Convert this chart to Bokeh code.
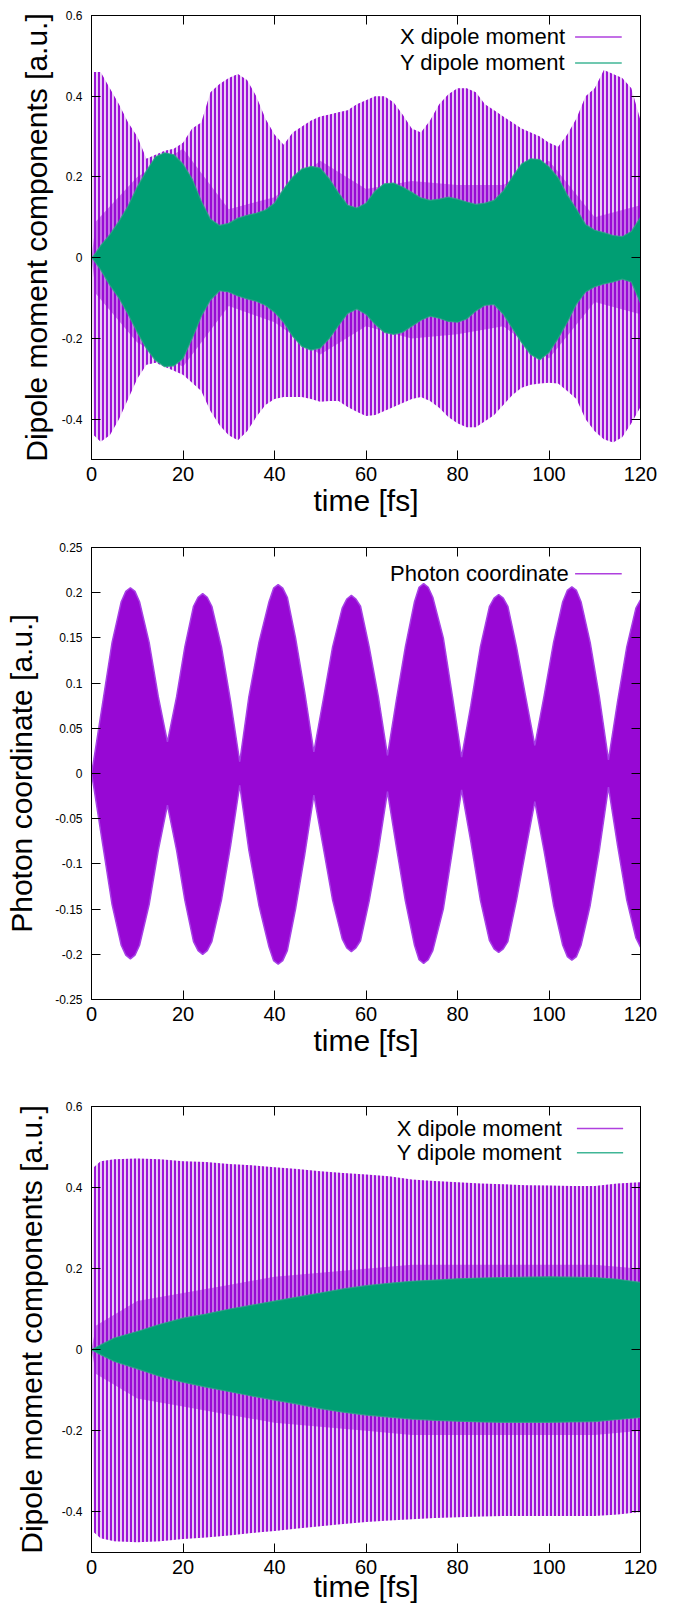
from bokeh.plotting import figure
from bokeh.layouts import column
from bokeh.models import (Range1d, FixedTicker, LinearAxis, Label, CustomJSTickFormatter,
                          CustomLabelingPolicy)
from bokeh.embed import file_html
from bokeh.resources import INLINE

FONT = "Liberation Sans"
PURPLE = "#9400d3"
GREEN = "#009e73"

# ---------------- labels / ticks ----------------
X_TICKS = [0, 20, 40, 60, 80, 100, 120]
DIP_Y_TICKS = [-0.4, -0.2, 0, 0.2, 0.4, 0.6]
PH_Y_TICKS = [-0.25, -0.2, -0.15, -0.1, -0.05, 0, 0.05, 0.1, 0.15, 0.2, 0.25]
XLABEL = "time [fs]"
YLABEL_DIP = "Dipole moment components [a.u.]"
YLABEL_PH = "Photon coordinate [a.u.]"
LEG_X = "X dipole moment"
LEG_Y = "Y dipole moment"
LEG_PH = "Photon coordinate"

# ---------------- panel 1 : dipole moments (envelopes) ----------------
t1 = [0, 0.5, 2, 4, 6, 8, 10, 12, 14, 16, 18, 20, 22, 24, 26, 28, 30, 32, 34, 36, 38, 40,
      42, 44, 46, 48, 50, 52, 54, 56, 58, 60, 62, 64, 66, 68, 70, 72, 74, 76, 78, 80,
      82, 84, 86, 88, 90, 92, 94, 96, 98, 100, 102, 104, 106, 108, 110, 112, 114, 116, 118, 120]
x1_up = [0.0, 0.46, 0.46, 0.42, 0.38, 0.335, 0.30, 0.245, 0.255, 0.265, 0.27, 0.285, 0.32, 0.335,
         0.41, 0.43, 0.445, 0.455, 0.44, 0.40, 0.345, 0.305, 0.28, 0.31, 0.325, 0.34, 0.35, 0.355,
         0.36, 0.365, 0.38, 0.39, 0.40, 0.40, 0.385, 0.355, 0.32, 0.31, 0.34, 0.38, 0.405, 0.42,
         0.42, 0.41, 0.38, 0.365, 0.35, 0.335, 0.32, 0.31, 0.30, 0.285, 0.275, 0.305, 0.345, 0.40,
         0.42, 0.465, 0.455, 0.445, 0.42, 0.34]
x1_lo = [0.0, -0.44, -0.456, -0.44, -0.40, -0.35, -0.30, -0.265, -0.26, -0.27, -0.28, -0.29, -0.31,
         -0.33, -0.38, -0.415, -0.44, -0.452, -0.43, -0.395, -0.365, -0.35, -0.345, -0.345, -0.345,
         -0.35, -0.357, -0.355, -0.355, -0.37, -0.382, -0.392, -0.39, -0.38, -0.37, -0.36, -0.35,
         -0.345, -0.355, -0.372, -0.395, -0.41, -0.42, -0.42, -0.405, -0.39, -0.365, -0.34, -0.322,
         -0.315, -0.312, -0.31, -0.312, -0.33, -0.35, -0.40, -0.43, -0.45, -0.458, -0.445, -0.41, -0.37]
y1_up = [0.0, 0.005, 0.03, 0.057, 0.09, 0.128, 0.175, 0.215, 0.25, 0.26, 0.255, 0.232, 0.195, 0.14,
         0.095, 0.08, 0.085, 0.098, 0.105, 0.11, 0.118, 0.135, 0.17, 0.2, 0.22, 0.226, 0.222, 0.195,
         0.16, 0.13, 0.123, 0.135, 0.165, 0.183, 0.185, 0.175, 0.162, 0.148, 0.142, 0.145, 0.15, 0.145,
         0.138, 0.132, 0.135, 0.142, 0.165, 0.2, 0.232, 0.245, 0.243, 0.225, 0.198, 0.155, 0.12, 0.082,
         0.068, 0.062, 0.055, 0.052, 0.065, 0.10]
y1_lo = [0.0, -0.006, -0.03, -0.068, -0.1, -0.14, -0.185, -0.225, -0.255, -0.27, -0.268, -0.25, -0.2,
         -0.145, -0.105, -0.082, -0.085, -0.095, -0.102, -0.108, -0.118, -0.135, -0.16, -0.195, -0.22,
         -0.229, -0.224, -0.2, -0.168, -0.138, -0.127, -0.14, -0.165, -0.185, -0.19, -0.185, -0.17,
         -0.155, -0.145, -0.15, -0.158, -0.16, -0.152, -0.132, -0.118, -0.116, -0.14, -0.175, -0.21,
         -0.24, -0.253, -0.235, -0.2, -0.16, -0.115, -0.085, -0.072, -0.065, -0.06, -0.053, -0.06, -0.112]
t1_core = [0, 1, 10, 20, 30, 40, 50, 60, 70, 80, 90, 100, 110, 120]
x1_core_up = [0.0, 0.09, 0.2, 0.27, 0.12, 0.15, 0.24, 0.17, 0.19, 0.18, 0.18, 0.24, 0.1, 0.13]
x1_core_lo = [0.0, -0.09, -0.21, -0.27, -0.12, -0.16, -0.24, -0.17, -0.2, -0.19, -0.17, -0.25, -0.11, -0.14]

# ---------------- panel 2 : photon coordinate envelope ----------------
t2 = [0, 0.5, 2.5, 4.5, 6.5, 7.5, 8.5, 9.5, 10.5, 12.6, 14.6,
      16.6, 18.6, 20.4, 22.3, 23.3, 24.3, 25.3, 26.3, 28.4, 30.4,
      32.4, 34.4, 36.6, 38.8, 39.8, 40.8, 41.8, 42.8, 44.6, 46.6,
      48.6, 50.6, 52.7, 54.8, 55.8, 56.8, 57.8, 58.8, 60.7, 62.7,
      64.7, 66.6, 68.6, 70.6, 71.6, 72.6, 73.6, 74.6, 76.9, 78.9,
      80.9, 82.9, 85.0, 87.0, 88.0, 89.0, 90.0, 91.0, 92.9, 94.9,
      96.9, 98.9, 101.0, 103.0, 104.0, 105.0, 106.0, 107.0, 109.0, 111.0,
      113.0, 115.0, 117.0, 119.0, 120.0]
ph_up = [0.0, 0.015, 0.08, 0.145, 0.19, 0.2015, 0.2055, 0.2015, 0.19, 0.145, 0.085,
         0.035, 0.085, 0.14, 0.185, 0.195, 0.199, 0.195, 0.185, 0.14, 0.08,
         0.013, 0.085, 0.145, 0.19, 0.205, 0.209, 0.205, 0.195, 0.15, 0.09,
         0.024, 0.08, 0.14, 0.183, 0.193, 0.197, 0.193, 0.185, 0.14, 0.085,
         0.02, 0.08, 0.14, 0.19, 0.206, 0.21, 0.206, 0.195, 0.15, 0.085,
         0.018, 0.075, 0.14, 0.185, 0.194, 0.198, 0.194, 0.185, 0.14, 0.085,
         0.031, 0.085, 0.145, 0.19, 0.2025, 0.2065, 0.2025, 0.19, 0.145, 0.085,
         0.015, 0.08, 0.14, 0.183, 0.192]
ph_lo = [0.0, -0.015, -0.08, -0.145, -0.19, -0.201, -0.205, -0.201, -0.19, -0.145, -0.085,
         -0.035, -0.085, -0.14, -0.186, -0.196, -0.2, -0.196, -0.186, -0.14, -0.08,
         -0.013, -0.085, -0.146, -0.192, -0.207, -0.211, -0.207, -0.196, -0.15, -0.09,
         -0.024, -0.08, -0.14, -0.183, -0.193, -0.197, -0.193, -0.185, -0.141, -0.085,
         -0.02, -0.08, -0.141, -0.19, -0.206, -0.21, -0.206, -0.196, -0.15, -0.085,
         -0.018, -0.075, -0.14, -0.185, -0.194, -0.198, -0.194, -0.186, -0.14, -0.085,
         -0.031, -0.085, -0.146, -0.19, -0.2025, -0.2065, -0.2025, -0.19, -0.146, -0.085,
         -0.015, -0.08, -0.14, -0.182, -0.192]

# ---------------- panel 3 : dipole moments, second run ----------------
t3 = [0, 0.5, 2, 5, 10, 15, 20, 25, 30, 35, 40, 45, 50, 55, 60, 65, 70, 75, 80, 85, 90, 95, 100,
      105, 110, 115, 120]
x3_up = [0.0, 0.45, 0.465, 0.47, 0.472, 0.47, 0.465, 0.463, 0.458, 0.455, 0.45, 0.446, 0.44, 0.436,
         0.432, 0.428, 0.42, 0.416, 0.413, 0.41, 0.408, 0.406, 0.405, 0.404, 0.404, 0.41, 0.413]
x3_lo = [0.0, -0.45, -0.465, -0.472, -0.475, -0.472, -0.467, -0.463, -0.458, -0.452, -0.447, -0.441,
         -0.435, -0.43, -0.425, -0.421, -0.418, -0.415, -0.413, -0.411, -0.41, -0.41, -0.41, -0.41,
         -0.41, -0.406, -0.40]
y3_up = [0.0, 0.003, 0.012, 0.029, 0.045, 0.063, 0.078, 0.088, 0.1, 0.11, 0.12, 0.13, 0.14, 0.15,
         0.158, 0.164, 0.169, 0.172, 0.175, 0.177, 0.178, 0.179, 0.18, 0.179, 0.178, 0.174, 0.166]
y3_lo = [0.0, -0.003, -0.012, -0.029, -0.047, -0.066, -0.08, -0.092, -0.103, -0.114, -0.124, -0.134,
         -0.145, -0.154, -0.161, -0.166, -0.171, -0.174, -0.176, -0.178, -0.179, -0.179, -0.179,
         -0.178, -0.177, -0.172, -0.167]
t3_core = [0, 1, 10, 20, 30, 40, 50, 60, 70, 80, 90, 100, 110, 120]
x3_core_up = [0.0, 0.06, 0.12, 0.14, 0.16, 0.18, 0.19, 0.2, 0.21, 0.21, 0.21, 0.21, 0.21, 0.2]
x3_core_lo = [0.0, -0.06, -0.12, -0.14, -0.16, -0.18, -0.19, -0.2, -0.21, -0.21, -0.21, -0.21, -0.21, -0.2]

FMT = "return String(Number(tick.toFixed(3)))"
NO_LABELS = "for (const i of indices) { indices.unset(i) } return indices"


def make_fig(height, yr, yticks, ylabel, border, xl_standoff, yl_standoff):
    left, right, top, bottom = border
    p = figure(width=675, height=height, x_range=Range1d(0, 120), y_range=Range1d(*yr),
               output_backend="svg", toolbar_location=None,
               min_border_left=left, min_border_right=right,
               min_border_top=top, min_border_bottom=bottom,
               background_fill_color="white", border_fill_color="white")
    p.grid.visible = False
    p.outline_line_color = "black"
    p.outline_line_width = 1
    xa = p.xaxis[0]
    ya = p.yaxis[0]
    xa.ticker = FixedTicker(ticks=X_TICKS)
    ya.ticker = FixedTicker(ticks=yticks)
    ya.formatter = CustomJSTickFormatter(code=FMT)
    for ax in (xa, ya):
        ax.major_tick_in = 9
        ax.major_tick_out = 0
        ax.major_tick_line_color = "black"
        ax.minor_tick_line_color = None
        ax.axis_line_color = "black"
        ax.major_label_text_font = FONT
        ax.major_label_text_color = "black"
        ax.axis_label_text_font = FONT
        ax.axis_label_text_font_style = "normal"
        ax.axis_label_text_font_size = "30px"
        ax.axis_label_text_color = "black"
    xa.major_label_text_font_size = "20px"
    xa.major_label_standoff = 7
    xa.axis_label = XLABEL
    xa.axis_label_standoff = xl_standoff
    ya.major_label_text_font_size = "12px"
    ya.major_label_standoff = 9
    ya.axis_label = ylabel
    ya.axis_label_standoff = yl_standoff
    # mirrored inward ticks on the top and right (no labels)
    for side, ticks in (("above", X_TICKS), ("right", yticks)):
        ax = LinearAxis(ticker=FixedTicker(ticks=ticks), major_label_text_font_size="1px",
                        major_label_policy=CustomLabelingPolicy(code=NO_LABELS),
                        major_tick_in=9, major_tick_out=0, minor_tick_line_color=None,
                        major_label_standoff=0, axis_line_color="black",
                        major_tick_line_color="black")
        p.add_layout(ax, side)
    return p


def legend(p, rows, x_text, x0, x1):
    for text, y, color in rows:
        p.add_layout(Label(x=x_text, y=y, text=text, text_align="right", text_baseline="middle",
                           text_font=FONT, text_font_size="22px", text_color="black"))
        p.segment(x0=[x0], y0=[y], x1=[x1], y1=[y], line_color=color, line_width=1.5, line_alpha=0.75)


def dipole_layers(p, t, xu, xl, tc, cu, cl, t_g, gu, gl):
    p.varea(x=t, y1=xl, y2=xu, fill_color=PURPLE, fill_alpha=0.18)
    p.varea(x=t, y1=xl, y2=xu, fill_alpha=0, hatch_pattern="|", hatch_color=PURPLE,
            hatch_alpha=0.9, hatch_scale=4, hatch_weight=2.1)
    p.varea(x=tc, y1=cl, y2=cu, fill_color=PURPLE, fill_alpha=0.45)
    p.varea(x=t_g, y1=gl, y2=gu, fill_color=GREEN, fill_alpha=1.0)
    p.line(t_g, gu, line_color="#2aa884", line_width=1.2, line_alpha=0.8)
    p.line(t_g, gl, line_color="#2aa884", line_width=1.2, line_alpha=0.8)


# ---- panel 1
p1 = make_fig(530, (-0.5, 0.6), DIP_Y_TICKS, YLABEL_DIP, (91, 32, 15, 71), 0, 6)
dipole_layers(p1, t1, x1_up, x1_lo, t1_core, x1_core_up, x1_core_lo, t1, y1_up, y1_lo)
legend(p1, [(LEG_X, 0.547, PURPLE), (LEG_Y, 0.4825, GREEN)], 103.5, 105.7, 115.9)

# ---- panel 2
p2 = make_fig(555, (-0.25, 0.25), PH_Y_TICKS, YLABEL_PH, (88, 34, 17, 86), 0, 14)
p2.varea(x=t2, y1=ph_lo, y2=ph_up, fill_color=PURPLE, fill_alpha=0.97)
p2.line(t2, ph_up, line_color="#a640e6", line_width=1.5)
p2.line(t2, ph_lo, line_color="#a640e6", line_width=1.5)
legend(p2, [(LEG_PH, 0.221, PURPLE)], 104.3, 105.7, 115.9)

# ---- panel 3
p3 = make_fig(526, (-0.5, 0.6), DIP_Y_TICKS, YLABEL_DIP, (86, 35, 21, 59), -7, 11)
dipole_layers(p3, t3, x3_up, x3_lo, t3_core, x3_core_up, x3_core_lo, t3, y3_up, y3_lo)
legend(p3, [(LEG_X, 0.546, PURPLE), (LEG_Y, 0.486, GREEN)], 102.8, 106.1, 116.2)

layout = column(p1, p2, p3, spacing=0)
open("out.html", "w").write(file_html(layout, INLINE))
